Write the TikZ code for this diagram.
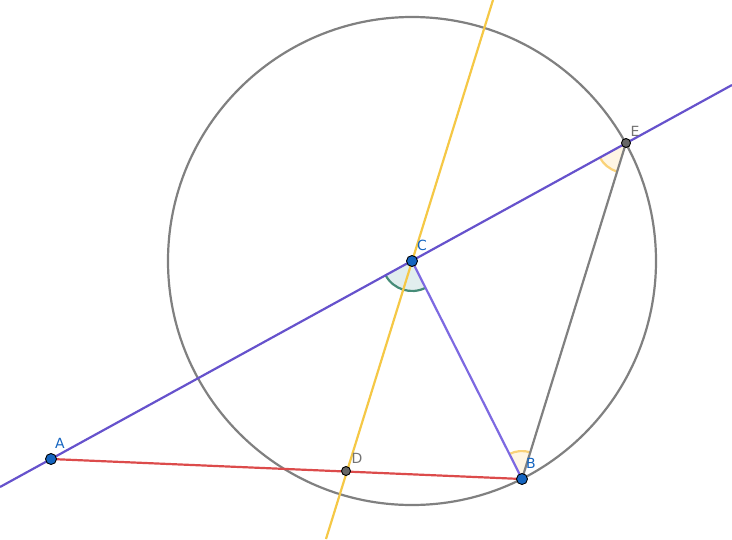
\documentclass[tikz,border=0pt]{standalone}
\usepackage{fontspec}
\setmainfont{DejaVu Sans}
\begin{document}
\begin{tikzpicture}[x=1pt,y=-1pt,
  geo/.style={line width=2.2pt},
  bluept/.style={circle,draw=black,fill=ptblue,line width=0.9pt,inner sep=0pt,minimum size=11pt},
  graypt/.style={circle,draw=black,fill=black!60,line width=0.9pt,inner sep=0pt,minimum size=9pt},
  bluelab/.style={text=ptblue,font=\fontsize{14}{16}\selectfont},
  graylab/.style={text=black!55,font=\fontsize{14}{16}\selectfont}]
\definecolor{ptblue}{RGB}{21,101,192}
\definecolor{purp}{RGB}{102,82,204}
\definecolor{purpl}{RGB}{125,105,225}
\definecolor{yel}{RGB}{245,200,70}
\definecolor{redl}{RGB}{220,75,75}
\definecolor{teal1}{RGB}{70,140,120}
\definecolor{tealf}{RGB}{225,238,238}
\definecolor{yelf}{RGB}{255,246,228}
\definecolor{yels}{RGB}{250,210,120}
\useasboundingbox (0,0) rectangle (732,539);
\coordinate (A) at (51,459);
\coordinate (B) at (522,479);
\coordinate (C) at (412,261);
\coordinate (D) at (346,471);
\coordinate (E) at (626,143);
\coordinate (P1) at (0,487);
\coordinate (P2) at (732,85);
\coordinate (Y1) at (493,0);
\coordinate (Y2) at (326,539);
% angles
\fill[tealf] (C) -- ++(-208.7:30) arc[start angle=-208.7,end angle=-296.8,radius=30] -- cycle;
\draw[draw=teal1,line width=2.2pt] (C) ++(-208.7:30) arc[start angle=-208.7,end angle=-296.8,radius=30];
\fill[yelf] (B) -- ++(-72.8:28) arc[start angle=-72.8,end angle=-116.8,radius=28] -- cycle;
\draw[yels,line width=2.2pt] (B) ++(-72.8:28) arc[start angle=-72.8,end angle=-116.8,radius=28];
\fill[yelf] (E) -- ++(-208.9:30) arc[start angle=-208.9,end angle=-252.8,radius=30] -- cycle;
\draw[yels,line width=2.2pt] (E) ++(-208.9:30) arc[start angle=-208.9,end angle=-252.8,radius=30];
% circle
\draw[geo,black!50] (C) circle[radius=244];
% lines
\draw[geo,purp] (P1) -- (P2);
\draw[geo,yel] (Y1) -- (Y2);
\draw[geo,redl] (A) -- (B);
\draw[geo,purpl] (C) -- (B);
\draw[geo,black!50] (B) -- (E);
% points
\node[graypt] (nD) at (D) {};
\node[graypt] (nE) at (E) {};
\node[bluept] (nA) at (A) {};
\node[bluept] (nB) at (B) {};
\node[bluept] (nC) at (C) {};
\node[bluelab] at (60,443) {A};
\node[bluelab] at (531,463) {B};
\node[bluelab] at (422,245) {C};
\node[graylab] at (357,458) {D};
\node[graylab] at (635,131) {E};
\end{tikzpicture}
\end{document}
